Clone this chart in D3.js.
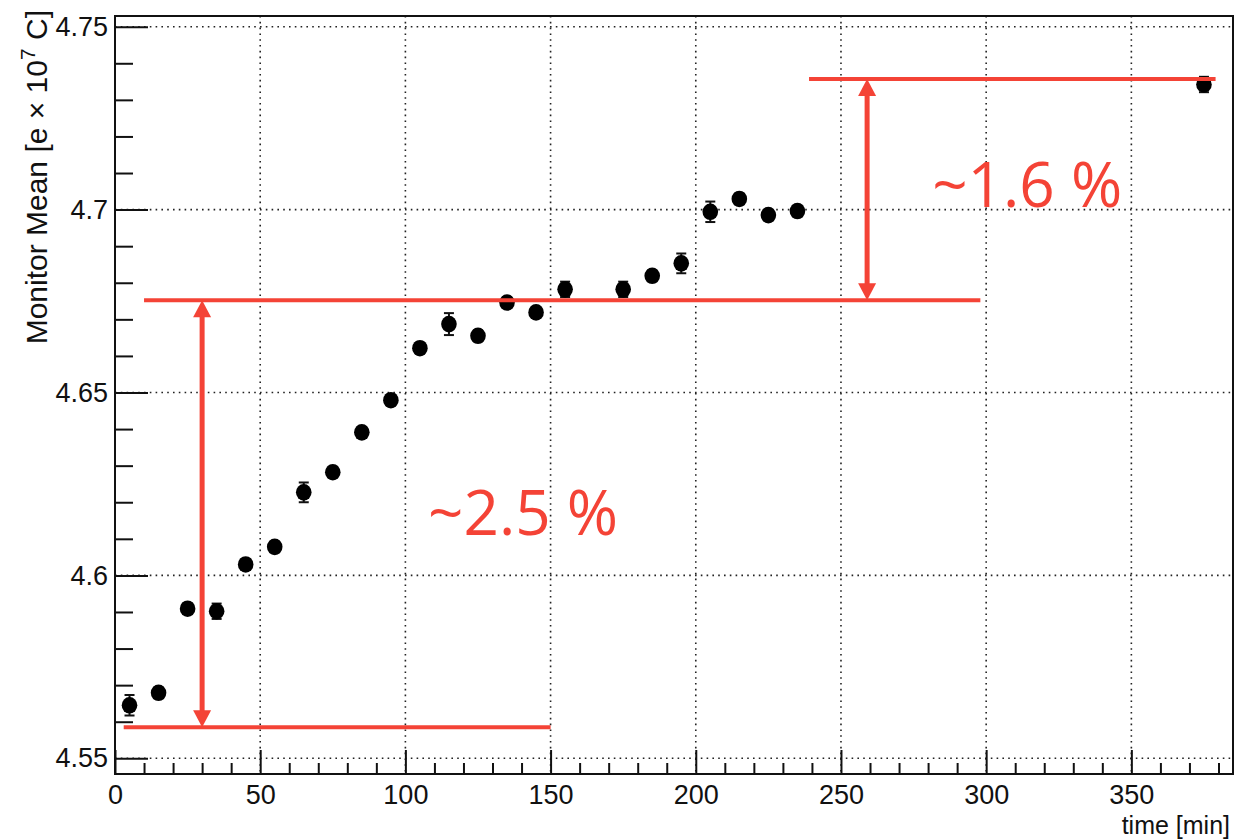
<!DOCTYPE html>
<html>
<head>
<meta charset="utf-8">
<script src="https://cdn.jsdelivr.net/npm/d3@7"></script>
<style>
  html, body { margin: 0; padding: 0; background: #fff; }
  svg { display: block; }
</style>
</head>
<body>
<svg id="chart" width="1238" height="840"></svg>
<script>
// Monitor mean versus elapsed time
const times  = [5, 15, 25, 35, 45, 55, 65, 75, 85, 95, 105, 115, 125, 135, 145, 155, 175, 185, 195, 205, 215, 225, 235, 375];
const means  = [4.5645, 4.5679, 4.5909, 4.5902, 4.6030, 4.6078, 4.6227, 4.6282, 4.6391, 4.6479, 4.6621, 4.6687, 4.6655, 4.6746, 4.6719, 4.6782, 4.6782, 4.6819, 4.6853, 4.6994, 4.7029, 4.6985, 4.6996, 4.7342];
const errors = [0.0028, 0.0015, 0.0015, 0.0021, 0.0015, 0.0015, 0.0027, 0.0015, 0.0015, 0.0015, 0.0015, 0.0030, 0.0015, 0.0015, 0.0015, 0.0021, 0.0021, 0.0015, 0.0027, 0.0028, 0.0015, 0.0015, 0.0015, 0.0021];

// Axis ticks
const xTickValues = [0, 50, 100, 150, 200, 250, 300, 350];
const xTickLabels = ["0", "50", "100", "150", "200", "250", "300", "350"];
const yTickValues = [4.55, 4.60, 4.65, 4.70, 4.75];
const yTickLabels = ["4.55", "4.6", "4.65", "4.7", "4.75"];

// Annotation guides (time range and level) and the spans between them
const guideLevels = [4.5585, 4.6752, 4.7357];
const guideFrom   = [3, 10, 239];
const guideTo     = [150, 298, 379];
const spanTimes   = [30, 259];
const spanLow     = [4.5585, 4.6752];
const spanHigh    = [4.6752, 4.7357];
const spanLabels  = ["~2.5 %", "~1.6 %"];
const labelTimes  = [107.8, 281.4];
const labelLevels = [4.611, 4.7007];

const svg = d3.select("#chart");
const frameL = 115, frameR = 1233, frameT = 16, frameB = 774;

const x = d3.scaleLinear().domain([0, 385]).range([frameL, frameR]);
const y = d3.scaleLinear().domain([4.55, 4.75]).range([758.3, 26.7]);

const ink = "#111";
const red = "#f44336";
const axisFont = "'Liberation Sans', Arial, sans-serif";

// Dotted grid at major ticks
const grid = svg.append("g").attr("stroke", "#222").attr("stroke-width", 1.6)
  .attr("stroke-dasharray", "1.6,4.2");
grid.selectAll("line.gx").data(xTickValues.filter(v => v > 0)).join("line")
  .attr("x1", d => x(d)).attr("x2", d => x(d)).attr("y1", frameT).attr("y2", frameB);
grid.selectAll("line.gy").data(yTickValues).join("line")
  .attr("y1", d => y(d)).attr("y2", d => y(d)).attr("x1", frameL).attr("x2", frameR);

// Axes via d3 axis generators, ticks drawn inward
const xMinor = d3.range(0, 386, 10).filter(v => v % 50 !== 0);
const yMinor = d3.range(4.55, 4.7501, 0.01).map(v => +v.toFixed(2)).filter(v => Math.round(v * 100) % 5 !== 0);

function styleAxis(g) {
  g.select(".domain").remove();
  g.selectAll(".tick line").attr("stroke", ink).attr("stroke-width", 2);
}

svg.append("g").attr("transform", `translate(0,${frameB})`)
  .call(d3.axisBottom(x).tickValues(xMinor).tickSize(-11).tickFormat(""))
  .call(styleAxis);
svg.append("g").attr("transform", `translate(0,${frameB})`)
  .call(d3.axisBottom(x).tickValues(xTickValues).tickSize(-24)
    .tickFormat((d, i) => xTickLabels[i]).tickPadding(11))
  .call(styleAxis)
  .call(g => g.selectAll("text").attr("fill", ink)
    .style("font-family", axisFont).style("font-size", "27px"));

svg.append("g").attr("transform", `translate(${frameL},0)`)
  .call(d3.axisLeft(y).tickValues(yMinor).tickSize(-18).tickFormat(""))
  .call(styleAxis);
svg.append("g").attr("transform", `translate(${frameL},0)`)
  .call(d3.axisLeft(y).tickValues(yTickValues).tickSize(-33)
    .tickFormat((d, i) => yTickLabels[i]).tickPadding(7))
  .call(styleAxis)
  .call(g => g.selectAll("text").attr("fill", ink)
    .style("font-family", axisFont).style("font-size", "27px"));

// Frame
svg.append("rect")
  .attr("x", frameL).attr("y", frameT).attr("width", frameR - frameL).attr("height", frameB - frameT)
  .attr("fill", "none").attr("stroke", ink).attr("stroke-width", 2);

// Axis titles
svg.append("text")
  .attr("x", 1230).attr("y", 834)
  .attr("text-anchor", "end").attr("fill", ink)
  .style("font-family", axisFont).style("font-size", "25px")
  .text("time [min]");

const yTitle = svg.append("text")
  .attr("transform", "translate(47,10) rotate(-90)")
  .attr("text-anchor", "end").attr("fill", ink)
  .style("font-family", axisFont).style("font-size", "30px");
yTitle.append("tspan").text("Monitor Mean [e \u00d7 10");
yTitle.append("tspan").attr("dy", -12).style("font-size", "21px").text("7");
yTitle.append("tspan").attr("dy", 12).text(" C]");

// Data points with error bars
const pts = times.map((t, i) => ({ t, m: means[i], e: errors[i] }));
const eb = svg.append("g").attr("stroke", ink).attr("stroke-width", 2);
eb.selectAll("line.bar").data(pts).join("line")
  .attr("x1", d => x(d.t)).attr("x2", d => x(d.t))
  .attr("y1", d => y(d.m + d.e)).attr("y2", d => y(d.m - d.e));
eb.selectAll("line.capHi").data(pts).join("line")
  .attr("x1", d => x(d.t) - 5).attr("x2", d => x(d.t) + 5)
  .attr("y1", d => y(d.m + d.e)).attr("y2", d => y(d.m + d.e));
eb.selectAll("line.capLo").data(pts).join("line")
  .attr("x1", d => x(d.t) - 5).attr("x2", d => x(d.t) + 5)
  .attr("y1", d => y(d.m - d.e)).attr("y2", d => y(d.m - d.e));

svg.append("g").selectAll("ellipse").data(pts).join("ellipse")
  .attr("cx", d => x(d.t)).attr("cy", d => y(d.m))
  .attr("rx", 7.8).attr("ry", 8.3).attr("fill", "#000");

// Red guide lines
const ann = svg.append("g");
ann.selectAll("line.guide").data(guideLevels).join("line")
  .attr("x1", (d, i) => x(guideFrom[i])).attr("x2", (d, i) => x(guideTo[i]))
  .attr("y1", d => y(d)).attr("y2", d => y(d))
  .attr("stroke", red).attr("stroke-width", 4);

// Double-headed arrows between guide levels
const head = 17, half = 9;
spanTimes.forEach((t, i) => {
  const cx = x(t), yHi = y(spanHigh[i]), yLo = y(spanLow[i]);
  ann.append("line")
    .attr("x1", cx).attr("x2", cx).attr("y1", yHi + head - 2).attr("y2", yLo - head + 2)
    .attr("stroke", red).attr("stroke-width", 5);
  ann.append("path")
    .attr("d", `M${cx},${yHi} L${cx - half},${yHi + head} L${cx + half},${yHi + head} Z`)
    .attr("fill", red);
  ann.append("path")
    .attr("d", `M${cx},${yLo} L${cx - half},${yLo - head} L${cx + half},${yLo - head} Z`)
    .attr("fill", red);
});

ann.selectAll("text.span").data(spanLabels).join("text")
  .attr("x", (d, i) => x(labelTimes[i])).attr("y", (d, i) => y(labelLevels[i]))
  .attr("fill", red)
  .style("font-family", "'Open Sans', 'Noto Sans', sans-serif").style("font-size", "62px")
  .text(d => d);
</script>
</body>
</html>
